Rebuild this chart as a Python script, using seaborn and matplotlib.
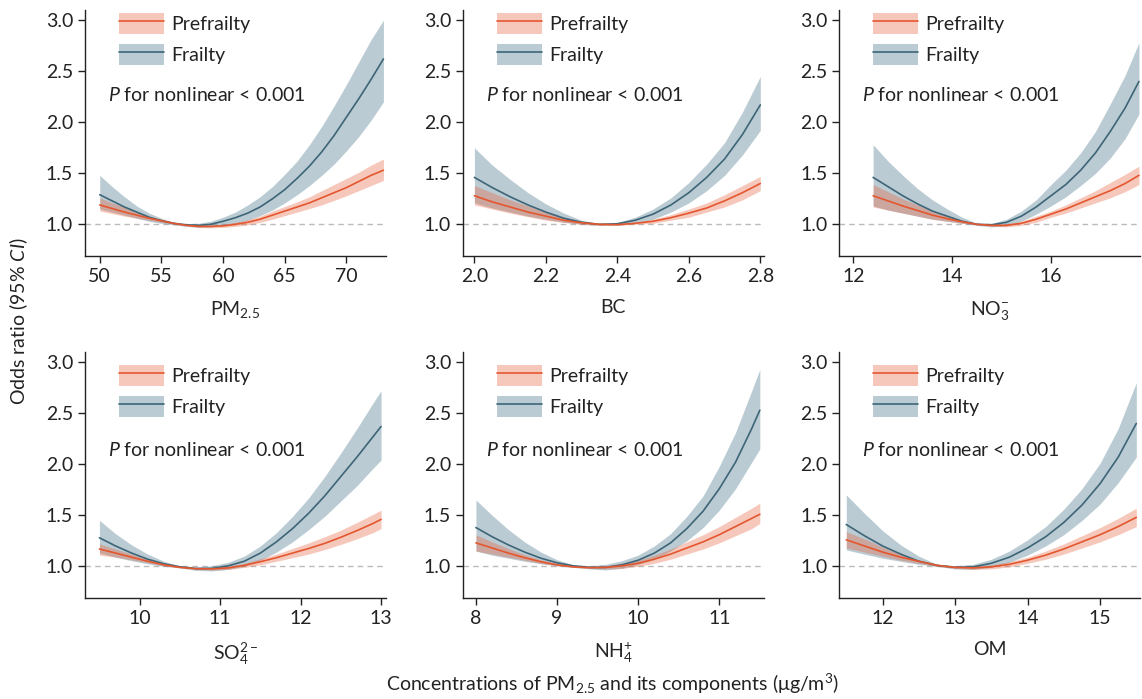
import matplotlib

matplotlib.use("Agg")
import matplotlib.pyplot as plt
import seaborn as sns
from matplotlib.lines import Line2D
from matplotlib.patches import Patch

# PM2.5
pm25_x = [50, 51, 52, 53, 54, 55, 56, 57, 58, 59, 60, 61, 62, 63, 64, 65, 66, 67, 68, 69, 70, 71, 72, 73]
pm25_pre = [1.19, 1.155, 1.12, 1.09, 1.06, 1.035, 1.01, 0.99, 0.98, 0.98, 0.985, 1.0,
            1.02, 1.05, 1.09, 1.13, 1.17, 1.21, 1.26, 1.31, 1.36, 1.42, 1.48, 1.53]
pm25_pre_lo = [1.13, 1.105, 1.08, 1.06, 1.04, 1.02, 1.0, 0.985, 0.97, 0.965, 0.97, 0.98,
               0.995, 1.02, 1.05, 1.085, 1.12, 1.155, 1.19, 1.235, 1.28, 1.33, 1.38, 1.43]
pm25_pre_hi = [1.26, 1.21, 1.17, 1.12, 1.08, 1.05, 1.015, 0.995, 0.99, 0.99, 1.0, 1.02,
               1.045, 1.08, 1.13, 1.175, 1.22, 1.27, 1.33, 1.39, 1.45, 1.51, 1.58, 1.64]
pm25_fra = [1.29, 1.23, 1.17, 1.12, 1.07, 1.035, 1.01, 0.995, 0.99, 1.0, 1.03, 1.065,
            1.11, 1.17, 1.25, 1.34, 1.45, 1.57, 1.71, 1.87, 2.05, 2.23, 2.42, 2.62]
pm25_fra_lo = [1.15, 1.12, 1.09, 1.06, 1.03, 1.01, 0.995, 0.98, 0.97, 0.975, 0.99, 1.01,
               1.04, 1.085, 1.14, 1.21, 1.29, 1.38, 1.48, 1.59, 1.72, 1.86, 2.02, 2.2]
pm25_fra_hi = [1.48, 1.37, 1.27, 1.18, 1.11, 1.06, 1.02, 1.005, 1.01, 1.03, 1.07, 1.12,
               1.19, 1.27, 1.37, 1.49, 1.62, 1.78, 1.96, 2.16, 2.37, 2.59, 2.81, 3.0]

# BC
bc_x = [2.0, 2.05, 2.1, 2.15, 2.2, 2.25, 2.3, 2.35, 2.4, 2.45, 2.5, 2.55, 2.6, 2.65, 2.7, 2.75, 2.8]
bc_pre = [1.28, 1.22, 1.17, 1.12, 1.08, 1.04, 1.015, 1.0, 0.997, 1.01, 1.03, 1.065,
          1.11, 1.16, 1.23, 1.31, 1.40]
bc_pre_lo = [1.19, 1.15, 1.11, 1.075, 1.04, 1.02, 1.0, 0.99, 0.99, 1.0, 1.01, 1.04,
             1.07, 1.12, 1.17, 1.24, 1.33]
bc_pre_hi = [1.38, 1.31, 1.24, 1.18, 1.12, 1.065, 1.025, 1.005, 1.0, 1.02, 1.05, 1.095,
             1.15, 1.21, 1.29, 1.38, 1.47]
bc_fra = [1.46, 1.36, 1.27, 1.19, 1.12, 1.06, 1.02, 1.0, 1.005, 1.04, 1.10, 1.19,
          1.31, 1.46, 1.64, 1.88, 2.17]
bc_fra_lo = [1.21, 1.16, 1.12, 1.08, 1.05, 1.02, 1.0, 0.99, 0.99, 1.01, 1.05, 1.12,
             1.21, 1.33, 1.48, 1.68, 1.92]
bc_fra_hi = [1.75, 1.58, 1.44, 1.31, 1.20, 1.11, 1.04, 1.005, 1.02, 1.07, 1.15, 1.26,
             1.41, 1.59, 1.80, 2.10, 2.45]

# NO3-
no3_x = [12.4, 12.7, 13.0, 13.3, 13.6, 13.9, 14.2, 14.5, 14.8, 15.1, 15.4, 15.7, 16.0,
         16.3, 16.6, 16.9, 17.2, 17.5, 17.78]
no3_pre = [1.28, 1.23, 1.18, 1.135, 1.09, 1.055, 1.025, 1.0, 0.99, 0.99, 1.01, 1.05, 1.10,
           1.15, 1.21, 1.27, 1.33, 1.40, 1.48]
no3_pre_lo = [1.17, 1.14, 1.11, 1.08, 1.05, 1.03, 1.01, 0.995, 0.98, 0.975, 0.99, 1.02, 1.07,
              1.11, 1.16, 1.21, 1.26, 1.32, 1.39]
no3_pre_hi = [1.39, 1.32, 1.25, 1.19, 1.13, 1.08, 1.04, 1.005, 1.0, 1.005, 1.03, 1.08, 1.13,
              1.19, 1.26, 1.33, 1.41, 1.49, 1.57]
no3_fra = [1.46, 1.37, 1.28, 1.20, 1.13, 1.08, 1.03, 1.0, 0.995, 1.02, 1.08, 1.17, 1.28,
           1.39, 1.53, 1.70, 1.91, 2.14, 2.40]
no3_fra_lo = [1.18, 1.14, 1.11, 1.08, 1.05, 1.03, 1.01, 0.99, 0.975, 0.985, 1.03, 1.10, 1.18,
              1.27, 1.38, 1.50, 1.65, 1.84, 2.08]
no3_fra_hi = [1.78, 1.62, 1.48, 1.35, 1.24, 1.15, 1.07, 1.01, 1.01, 1.05, 1.13, 1.24, 1.39,
              1.53, 1.70, 1.91, 2.18, 2.46, 2.78]

# SO4 2-
so4_x = [9.5, 9.7, 9.9, 10.1, 10.3, 10.5, 10.7, 10.9, 11.1, 11.3, 11.5, 11.7, 11.9, 12.1,
         12.3, 12.5, 12.7, 12.9, 13.0]
so4_pre = [1.17, 1.13, 1.09, 1.05, 1.015, 0.99, 0.977, 0.975, 0.985, 1.01, 1.045, 1.085,
           1.13, 1.175, 1.225, 1.285, 1.35, 1.42, 1.46]
so4_pre_lo = [1.11, 1.09, 1.065, 1.035, 1.005, 0.985, 0.97, 0.965, 0.97, 0.99, 1.015, 1.05,
              1.085, 1.12, 1.165, 1.215, 1.27, 1.33, 1.37]
so4_pre_hi = [1.22, 1.17, 1.12, 1.065, 1.025, 0.995, 0.985, 0.985, 1.0, 1.03, 1.075, 1.12,
              1.175, 1.23, 1.29, 1.355, 1.43, 1.51, 1.55]
so4_fra = [1.28, 1.20, 1.13, 1.07, 1.025, 0.995, 0.978, 0.98, 1.005, 1.05, 1.13, 1.24,
           1.37, 1.52, 1.69, 1.88, 2.07, 2.27, 2.37]
so4_fra_lo = [1.13, 1.09, 1.055, 1.025, 1.0, 0.985, 0.96, 0.955, 0.97, 1.0, 1.06, 1.14,
              1.24, 1.36, 1.49, 1.64, 1.79, 1.96, 2.04]
so4_fra_hi = [1.45, 1.32, 1.21, 1.12, 1.05, 1.005, 0.995, 1.005, 1.04, 1.10, 1.20, 1.33,
              1.49, 1.67, 1.88, 2.11, 2.35, 2.60, 2.72]

# NH4+
nh4_x = [8.0, 8.2, 8.4, 8.6, 8.8, 9.0, 9.2, 9.4, 9.6, 9.8, 10.0, 10.2, 10.4, 10.6, 10.8,
         11.0, 11.2, 11.4, 11.5]
nh4_pre = [1.23, 1.18, 1.13, 1.085, 1.045, 1.015, 0.995, 0.987, 0.99, 1.005, 1.03, 1.07,
           1.12, 1.18, 1.24, 1.31, 1.39, 1.47, 1.51]
nh4_pre_lo = [1.15, 1.12, 1.09, 1.06, 1.03, 1.005, 0.99, 0.98, 0.975, 0.98, 1.0, 1.03,
              1.07, 1.12, 1.17, 1.23, 1.30, 1.37, 1.42]
nh4_pre_hi = [1.31, 1.24, 1.175, 1.115, 1.065, 1.025, 1.0, 0.995, 1.005, 1.03, 1.06, 1.11,
              1.17, 1.24, 1.31, 1.39, 1.48, 1.57, 1.62]
nh4_fra = [1.38, 1.29, 1.21, 1.14, 1.08, 1.035, 1.005, 0.99, 0.99, 1.015, 1.06, 1.13,
           1.23, 1.37, 1.54, 1.76, 2.02, 2.35, 2.53]
nh4_fra_lo = [1.15, 1.11, 1.08, 1.05, 1.025, 1.005, 0.99, 0.975, 0.965, 0.98, 1.02, 1.07,
              1.15, 1.25, 1.38, 1.55, 1.76, 2.02, 2.15]
nh4_fra_hi = [1.65, 1.50, 1.36, 1.24, 1.14, 1.065, 1.015, 1.005, 1.02, 1.055, 1.11, 1.20,
              1.32, 1.49, 1.69, 1.98, 2.31, 2.72, 2.93]

# OM
om_x = [11.5, 11.75, 12.0, 12.25, 12.5, 12.75, 13.0, 13.25, 13.5, 13.75, 14.0, 14.25, 14.5,
        14.75, 15.0, 15.25, 15.5]
om_pre = [1.26, 1.20, 1.14, 1.09, 1.05, 1.01, 0.99, 0.985, 0.995, 1.02, 1.06, 1.11, 1.17,
          1.24, 1.31, 1.39, 1.48]
om_pre_lo = [1.18, 1.14, 1.10, 1.06, 1.03, 1.0, 0.98, 0.97, 0.975, 0.995, 1.03, 1.07, 1.12,
             1.18, 1.24, 1.31, 1.39]
om_pre_hi = [1.34, 1.27, 1.19, 1.12, 1.06, 1.02, 1.0, 0.995, 1.015, 1.045, 1.09, 1.15, 1.22,
             1.30, 1.38, 1.47, 1.57]
om_fra = [1.41, 1.30, 1.20, 1.12, 1.05, 1.01, 0.99, 0.995, 1.03, 1.09, 1.18, 1.29, 1.43,
          1.60, 1.81, 2.07, 2.40]
om_fra_lo = [1.16, 1.12, 1.08, 1.05, 1.02, 1.0, 0.975, 0.97, 0.99, 1.04, 1.11, 1.20, 1.31,
             1.45, 1.61, 1.82, 2.07]
om_fra_hi = [1.70, 1.52, 1.35, 1.21, 1.10, 1.02, 1.005, 1.02, 1.07, 1.15, 1.26, 1.39, 1.56,
             1.76, 2.01, 2.35, 2.80]

panels = [
    ("PM$_{2.5}$", pm25_x, pm25_pre, pm25_pre_lo, pm25_pre_hi, pm25_fra, pm25_fra_lo, pm25_fra_hi,
     [50, 55, 60, 65, 70], (48.8, 73.2), "%d"),
    ("BC", bc_x, bc_pre, bc_pre_lo, bc_pre_hi, bc_fra, bc_fra_lo, bc_fra_hi,
     [2.0, 2.2, 2.4, 2.6, 2.8], (1.968, 2.81), "%.1f"),
    ("NO$_3^{-}$", no3_x, no3_pre, no3_pre_lo, no3_pre_hi, no3_fra, no3_fra_lo, no3_fra_hi,
     [12, 14, 16], (11.71, 17.8), "%d"),
    ("SO$_4^{2-}$", so4_x, so4_pre, so4_pre_lo, so4_pre_hi, so4_fra, so4_fra_lo, so4_fra_hi,
     [10, 11, 12, 13], (9.32, 13.06), "%d"),
    ("NH$_4^{+}$", nh4_x, nh4_pre, nh4_pre_lo, nh4_pre_hi, nh4_fra, nh4_fra_lo, nh4_fra_hi,
     [8, 9, 10, 11], (7.84, 11.55), "%d"),
    ("OM", om_x, om_pre, om_pre_lo, om_pre_hi, om_fra, om_fra_lo, om_fra_hi,
     [12, 13, 14, 15], (11.4, 15.55), "%d"),
]

pre_line = "#E4572E"
pre_fill = (0.91, 0.39, 0.24, 0.35)
fra_line = "#3D6577"
fra_fill = (0.29, 0.47, 0.55, 0.38)

sns.set_style("ticks")
plt.rcParams["font.family"] = ["Lato", "DejaVu Sans"]
plt.rcParams["mathtext.fontset"] = "custom"
plt.rcParams["mathtext.rm"] = "Lato"
plt.rcParams["mathtext.it"] = "Lato:italic"
plt.rcParams["text.color"] = "#222222"

fig = plt.figure(figsize=(11.42, 6.99), dpi=100)

lefts = [0.0744, 0.4054, 0.7347]
bottoms = [0.6338, 0.1445]
w, h = 0.2635, 0.3519
# legend anchor and p-value text height differ a little between the rows
legend_y = [1.06, 1.02]
ptext_y = [0.654, 0.602]

for i, (label, x, pre, pre_lo, pre_hi, fra, fra_lo, fra_hi, ticks, xlim, fmt) in enumerate(panels):
    row = i // 3
    ax = fig.add_axes([lefts[i % 3], bottoms[row], w, h])
    ax.axhline(1.0, color="#BBBBBB", lw=1, ls=(0, (4, 3)), zorder=0)
    ax.fill_between(x, fra_lo, fra_hi, color=fra_fill, lw=0)
    ax.fill_between(x, pre_lo, pre_hi, color=pre_fill, lw=0)
    sns.lineplot(x=x, y=fra, color=fra_line, lw=1.2, ax=ax)
    sns.lineplot(x=x, y=pre, color=pre_line, lw=1.2, ax=ax)

    ax.set_xlim(*xlim)
    ax.set_ylim(0.69, 3.1)
    ax.set_xticks(ticks)
    ax.xaxis.set_major_formatter(matplotlib.ticker.FormatStrFormatter(fmt))
    ax.set_yticks([1.0, 1.5, 2.0, 2.5, 3.0])
    ax.yaxis.set_major_formatter(matplotlib.ticker.FormatStrFormatter("%.1f"))
    ax.tick_params(direction="out", length=5, width=1, labelsize=14, colors="#222222")
    for s in ["left", "bottom"]:
        ax.spines[s].set_linewidth(1)
        ax.spines[s].set_color("#222222")
    sns.despine(ax=ax)
    ax.set_xlabel(label, fontsize=14, labelpad=10)
    ax.set_ylabel("")

    handles = [
        (Patch(facecolor=pre_fill, lw=0), Line2D([], [], color=pre_line, lw=1.2)),
        (Patch(facecolor=fra_fill, lw=0), Line2D([], [], color=fra_line, lw=1.2)),
    ]
    ax.legend(handles, ["Prefrailty", "Frailty"], loc="upper left",
              bbox_to_anchor=(0.054, legend_y[row]), frameon=False, fontsize=14,
              handlelength=2.35, handleheight=1.3, labelspacing=0.5,
              handletextpad=0.35)
    ax.text(0.076, ptext_y[row], r"$\it{P}$ for nonlinear < 0.001", transform=ax.transAxes,
            fontsize=14, va="center", ha="left")

fig.text(0.016, 0.54, r"Odds ratio (95% $\it{CI}$)", rotation=90, fontsize=14,
         ha="center", va="center")
fig.text(0.536, 0.021, r"Concentrations of PM$_{2.5}$ and its components (μg/m$^3$)",
         fontsize=14, ha="center", va="center")

fig.savefig("out.png", dpi=100)
